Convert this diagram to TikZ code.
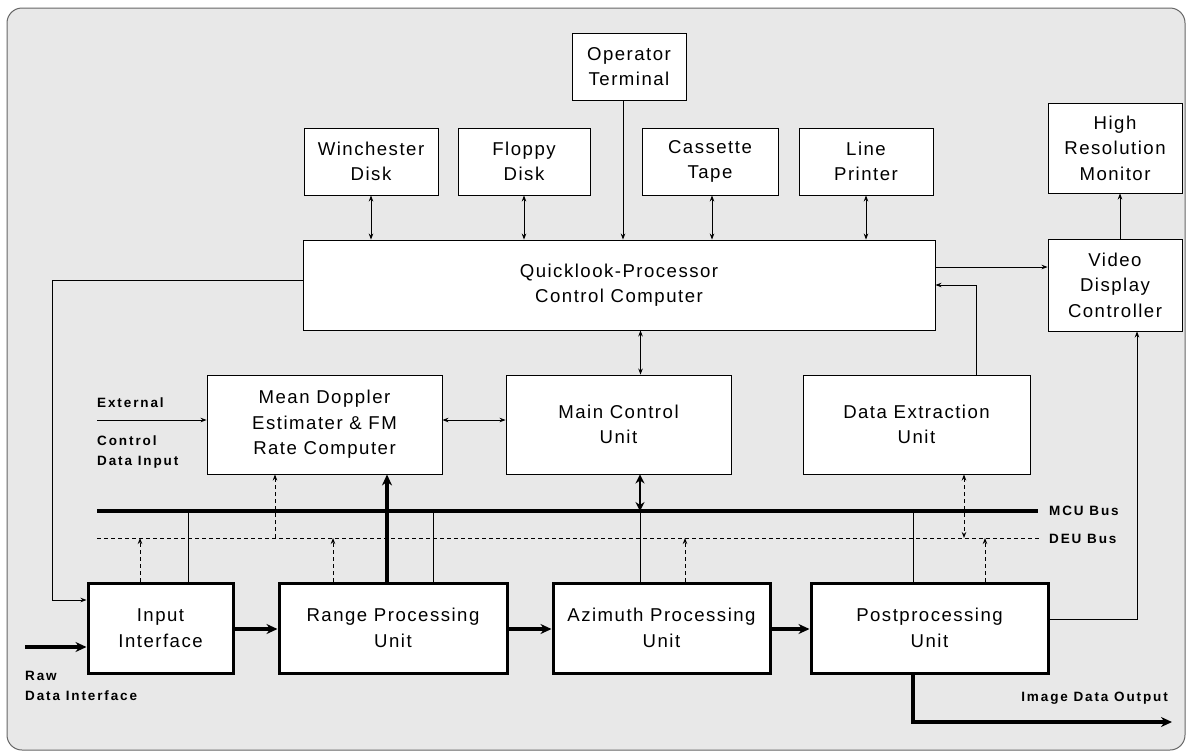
\documentclass[tikz,border=0pt]{standalone}
\usepackage{fontspec}
\setmainfont{Liberation Sans}
\newfontfamily\boxfont[LetterSpace=8]{Liberation Sans}
\newfontfamily\tagfont[LetterSpace=14]{Liberation Sans}
\usetikzlibrary{arrows.meta}

\begin{document}
\begin{tikzpicture}[x=1pt,y=-1pt,
  ubox/.style={draw=black, line width=0.9pt, fill=white, inner sep=0pt, align=center,
               font=\boxfont\fontsize{18.6}{25.5}\selectfont},
  pbox/.style={ubox, line width=3pt},
  thinline/.style={line width=0.8pt},
  >={Stealth[length=6pt,width=4.5pt]},
  dashline/.style={thinline, dash pattern=on 4pt off 3pt},
  thickarr/.style={line width=3.5pt, -{Stealth[length=11pt,width=10pt]}},
  thickdbl/.style={line width=2.5pt, {Stealth[length=9pt,width=9pt]}-{Stealth[length=9pt,width=9pt]}},
  tag/.style={font=\tagfont\bfseries\fontsize{13.5}{20}\selectfont, inner sep=0pt, align=left}
]
\useasboundingbox (0,0) rectangle (1188,753);

% frame and halftone-like background
\draw[rounded corners=15pt, fill=black!9, draw=black!60, line width=1pt] (7,8) rectangle (1185,750);

% peripherals and control computers
\node[ubox, minimum width=114pt, minimum height=67pt] (op)   at (629,66.5)   {Operator\\Terminal};
\node[ubox, minimum width=134pt, minimum height=67pt] (win)  at (371,161.5)  {Winchester\\Disk};
\node[ubox, minimum width=132pt, minimum height=67pt] (flop) at (524,161.5)  {Floppy\\Disk};
\node[ubox, minimum width=136pt, minimum height=67pt] (cas)  at (710,161.5)  {Cassette\\Tape};
\node[ubox, minimum width=134pt, minimum height=67pt] (lp)   at (866,161.5)  {Line\\Printer};
\node[ubox, minimum width=134pt, minimum height=90pt] (hrm)  at (1115,148)   {High\\Resolution\\Monitor};
\node[ubox, minimum width=632pt, minimum height=90pt] (qc)   at (619,285)    {Quicklook-Processor\\Control Computer};
\node[ubox, minimum width=134pt, minimum height=92pt] (vdc)  at (1115,285)   {Video\\Display\\Controller};
\node[ubox, minimum width=235pt, minimum height=99pt] (md)   at (324.5,424.5){Mean Doppler\\Estimater \& FM\\Rate Computer};
\node[ubox, minimum width=225pt, minimum height=99pt] (mcu)  at (618.5,424.5){Main Control\\Unit};
\node[ubox, minimum width=227pt, minimum height=99pt] (deu)  at (916.5,424.5){Data Extraction\\Unit};

% processing chain
\node[pbox, minimum width=145pt, minimum height=90pt] (in)  at (160.5,628) {Input\\Interface};
\node[pbox, minimum width=228pt, minimum height=90pt] (rpu) at (393,628)   {Range Processing\\Unit};
\node[pbox, minimum width=217pt, minimum height=90pt] (apu) at (661.5,628) {Azimuth Processing\\Unit};
\node[pbox, minimum width=237pt, minimum height=90pt] (ppu) at (929.5,628) {Postprocessing\\Unit};

% buses
\coordinate (mW) at (97,511);  \coordinate (mE) at (1038,511);
\coordinate (dW) at (97,538);  \coordinate (dE) at (1040,538);
\draw[line width=4pt] (mW) -- (mE);
\draw[dashline] (dW) -- (dE);
\node[tag, anchor=west] (lblmcu) at (1049,511) {MCU Bus};
\node[tag, anchor=west] (lbldeu) at (1049,539) {DEU Bus};

% peripheral links
\draw[thinline, <->] (win.south)  -- (win.south  |- qc.north);
\draw[thinline, <->] (flop.south) -- (flop.south |- qc.north);
\draw[thinline, <->] ([xshift=2pt]cas.south) -- ([xshift=2pt]cas.south |- qc.north);
\draw[thinline, <->] (lp.south)   -- (lp.south   |- qc.north);
\draw[thinline, ->] ([xshift=-6pt]op.south) -- ([xshift=-6pt]op.south |- qc.north);
\draw[thinline, ->] ([xshift=5pt]vdc.north) -- ([xshift=5pt]vdc.north |- hrm.south);
\draw[thinline, ->] ([yshift=18pt]qc.east) -- ([yshift=18pt]qc.east -| vdc.west);
\draw[thinline, ->] ([xshift=59.5pt]deu.north) |- (qc.east);
\draw[thinline, <->] ([xshift=21.5pt]qc.south) -- ([xshift=21.5pt]qc.south |- mcu.north);
\draw[thinline, <->] ([yshift=4.5pt]md.east) -- ([yshift=4.5pt]md.east -| mcu.west);
\coordinate (ext) at (97,420);
\draw[thinline, ->] (ext) -- (ext -| md.west);
\draw[thinline, ->] ([yshift=5pt]qc.west) -- ++(-250,0) |- ([yshift=28pt]in.west);
\draw[thinline, ->] ([yshift=9pt]ppu.east) -| ([xshift=22pt]vdc.south);

% bus taps
\draw[thinline] ([xshift=27.5pt]in.north) -- ([xshift=27.5pt]in.north |- mW);
\draw[thinline] ([xshift=40pt]rpu.north) -- ([xshift=40pt]rpu.north |- mW);
\draw[thinline] ([xshift=-21.5pt]apu.north) -- ([xshift=-21.5pt]apu.north |- mW);
\draw[thinline] ([xshift=-16.5pt]ppu.north) -- ([xshift=-16.5pt]ppu.north |- mW);
\draw[thickdbl] ([xshift=21.5pt]mcu.south) -- ([xshift=21.5pt]mcu.south |- mW);
\draw[thickarr] ([xshift=-6pt]rpu.north) -- ([xshift=-6pt]rpu.north |- md.south);

\draw[dashline, ->] ([xshift=-20.5pt]in.north) -- ([xshift=-20.5pt]in.north |- dW);
\draw[dashline, ->] ([xshift=-49.5pt]md.south |- dW) -- ([xshift=-49.5pt]md.south);
\draw[dashline, ->] ([xshift=-60pt]rpu.north) -- ([xshift=-60pt]rpu.north |- dW);
\draw[dashline, ->] ([xshift=23.5pt]apu.north) -- ([xshift=23.5pt]apu.north |- dW);
\draw[dashline, <->] ([xshift=47.5pt]deu.south) -- ([xshift=47.5pt]deu.south |- dW);
\draw[dashline, ->] ([xshift=55.5pt]ppu.north) -- ([xshift=55.5pt]ppu.north |- dW);

% data path
\coordinate (raw) at (25,647);
\draw[thickarr] (raw) -- (raw -| in.west);
\draw[thickarr] ([yshift=-1pt]in.east)  -- ([yshift=-1pt]in.east  -| rpu.west);
\draw[thickarr] ([yshift=-1pt]rpu.east) -- ([yshift=-1pt]rpu.east -| apu.west);
\draw[thickarr] ([yshift=-1pt]apu.east) -- ([yshift=-1pt]apu.east -| ppu.west);
\coordinate (imgout) at (1172,722);
\draw[thickarr] ([xshift=-16.5pt]ppu.south) |- (imgout);

% labels
\node[tag, anchor=west] (lblext) at (97,403) {External};
\node[tag, anchor=north west] (lblctl) at (97,436) {Control\\Data Input};
\node[tag, anchor=north west] (lblraw) at (25,671) {Raw\\Data Interface};
\node[tag, anchor=east] (lblout) at (1168,698) {Image Data Output};
\end{tikzpicture}
\end{document}
